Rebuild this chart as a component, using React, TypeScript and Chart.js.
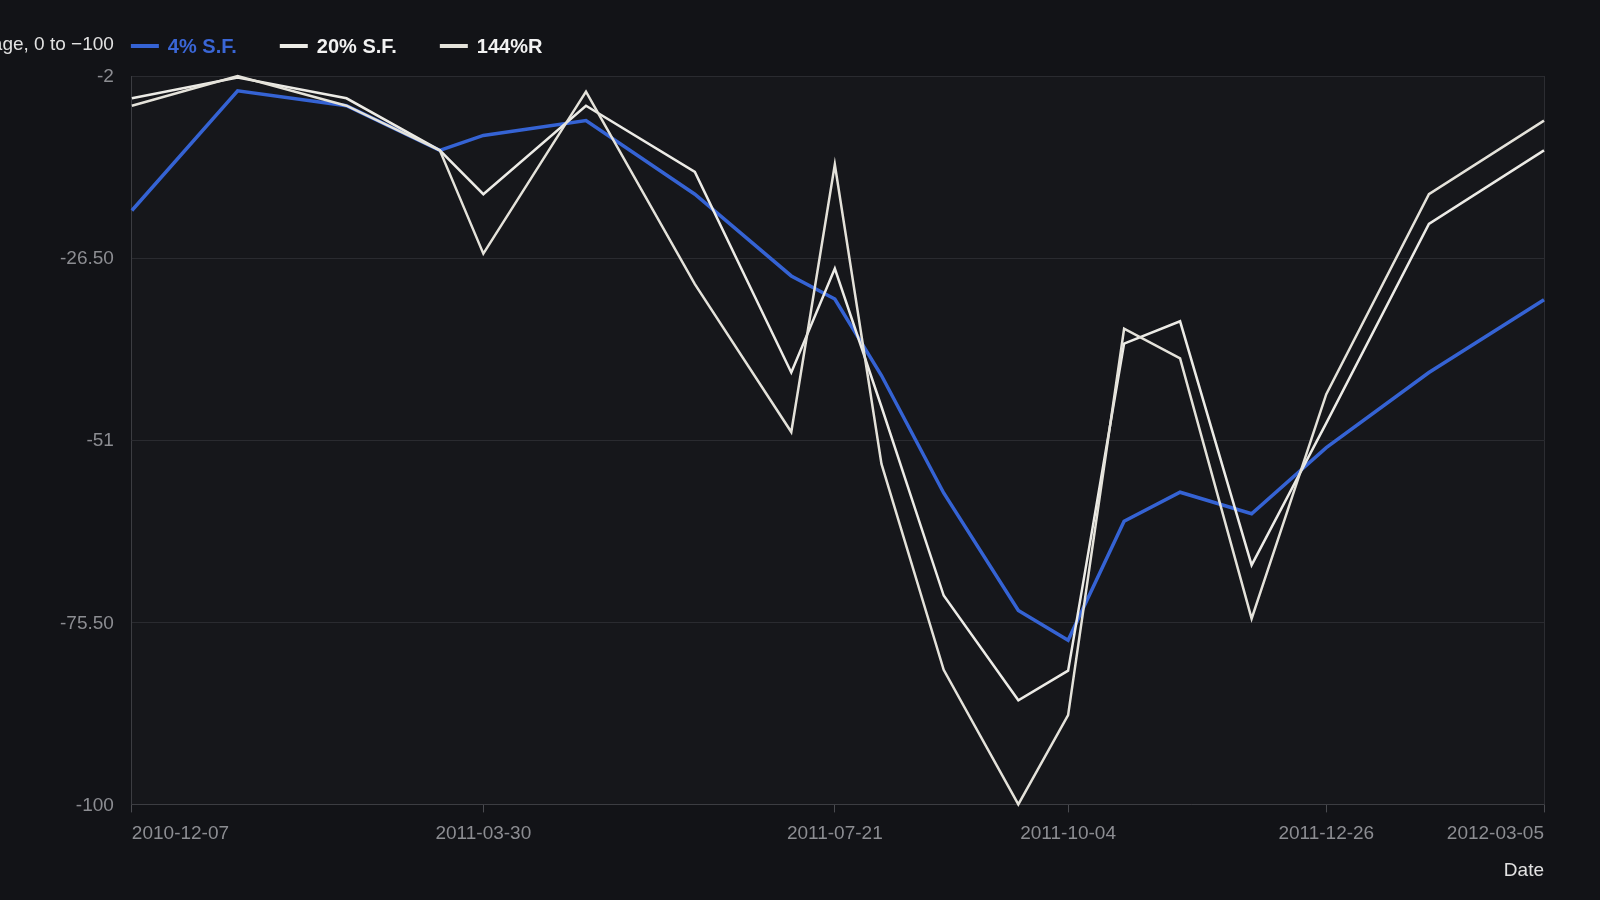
import { useEffect, useRef } from 'react';
import { Chart, registerables } from 'chart.js';

Chart.register(...registerables);

// Observation dates (x) and the three series (y, 0 to -100)
const dates = [
  '2010-12-07', '2011-01-10', '2011-02-14', '2011-03-16', '2011-03-30',
  '2011-05-02', '2011-06-06', '2011-07-07', '2011-07-21', '2011-08-05',
  '2011-08-25', '2011-09-18', '2011-10-04', '2011-10-22', '2011-11-09',
  '2011-12-02', '2011-12-26', '2012-01-28', '2012-03-05',
];
const sf4 = [
  -20.1, -4.0, -6.0, -12.0, -10.0, -8.0, -17.9, -28.9, -32.0, -42.3,
  -58.1, -73.9, -77.9, -61.9, -58.0, -60.9, -52.0, -41.9, -32.1,
];
const sf20 = [
  -5.0, -2.2, -5.0, -12.0, -17.9, -6.0, -14.9, -41.9, -27.9, -46.5,
  -71.9, -86.0, -82.0, -38.0, -35.0, -67.8, -48.7, -21.9, -12.0,
];
const r144 = [
  -6.0, -2.0, -6.0, -12.0, -25.9, -4.1, -30.0, -49.9, -13.9, -54.2,
  -81.9, -100.0, -88.0, -36.0, -40.0, -75.0, -44.8, -17.9, -8.0,
];

const xTickDates = ['2010-12-07', '2011-03-30', '2011-07-21', '2011-10-04', '2011-12-26', '2012-03-05'];
const yTickValues = [-2, -26.5, -51, -75.5, -100];
const yAxisTitle = 'Percentage, 0 to \u2212100';

const BG = '#121317';
const PLOT_BG = '#16171b';
const FONT = '"Liberation Sans", Arial, Helvetica, sans-serif';

const DAY = 86400000;
const startMs = Date.parse(dates[0]);
const toDay = (d: string) => Math.round((Date.parse(d) - startMs) / DAY);
const dayToLabel = (day: number) => new Date(startMs + day * DAY).toISOString().slice(0, 10);

const toPoints = (values: number[]) => dates.map((d, i) => ({ x: toDay(d), y: values[i] }));

// plot-area fill + right frame line
const plotFrame = {
  id: 'plotFrame',
  beforeDatasetsDraw(chart: any) {
    const { ctx, chartArea } = chart;
    ctx.save();
    ctx.strokeStyle = '#2c2d32';
    ctx.lineWidth = 1;
    ctx.beginPath();
    ctx.moveTo(Math.round(chartArea.right) + 0.5, chartArea.top);
    ctx.lineTo(Math.round(chartArea.right) + 0.5, chartArea.bottom);
    ctx.stroke();
    ctx.restore();
  },
  beforeDraw(chart: any) {
    const { ctx, chartArea, width, height } = chart;
    ctx.save();
    ctx.fillStyle = BG;
    ctx.fillRect(0, 0, width, height);
    ctx.fillStyle = PLOT_BG;
    ctx.fillRect(chartArea.left, chartArea.top, chartArea.right - chartArea.left, chartArea.bottom - chartArea.top);
    ctx.restore();
  },
};

// legend row with the y title placed to its left
const topLegend = {
  id: 'topLegend',
  afterDraw(chart: any) {
    const { ctx, chartArea } = chart;
    const y = 46;
    ctx.save();
    ctx.textBaseline = 'middle';
    ctx.font = `19px ${FONT}`;
    ctx.fillStyle = '#e2e2e2';
    ctx.textAlign = 'right';
    ctx.fillText(yAxisTitle, chartArea.left - 18, y - 1);

    ctx.textAlign = 'left';
    ctx.font = `bold 20px ${FONT}`;
    let x = chartArea.left - 1;
    chart.data.datasets.forEach((ds: any) => {
      ctx.strokeStyle = ds.borderColor;
      ctx.lineWidth = 4;
      ctx.beginPath();
      ctx.moveTo(x, y);
      ctx.lineTo(x + 28, y);
      ctx.stroke();
      ctx.fillStyle = ds.legendText;
      ctx.fillText(ds.label, x + 37, y + 1);
      x += 37 + ctx.measureText(ds.label).width + 43;
    });
    ctx.restore();
  },
};

export default function App() {
  const canvasRef = useRef<HTMLCanvasElement>(null);
  const chartRef = useRef<Chart | null>(null);

  useEffect(() => {
    document.body.style.margin = '0';
    document.body.style.background = BG;
    if (!canvasRef.current) return;
    if (chartRef.current) {
      chartRef.current.destroy();
      chartRef.current = null;
    }
    const ctx = canvasRef.current.getContext('2d');
    if (!ctx) return;

    chartRef.current = new Chart(ctx, {
      type: 'line',
      data: {
        datasets: [
          {
            label: '4% S.F.',
            data: toPoints(sf4),
            borderColor: '#3563d4',
            legendText: '#3a66d6',
            borderWidth: 3.5,
            order: 3,
          },
          {
            label: '20% S.F.',
            data: toPoints(sf20),
            borderColor: '#ecebe6',
            legendText: '#f2f2f2',
            borderWidth: 2.5,
            order: 2,
          },
          {
            label: '144%R',
            data: toPoints(r144),
            borderColor: '#e4e2da',
            legendText: '#f2f2f2',
            borderWidth: 2.5,
            order: 1,
          },
        ] as any,
      },
      options: {
        animation: false,
        responsive: true,
        maintainAspectRatio: false,
        layout: { padding: { left: 42, right: 56, top: 76, bottom: 14 } },
        elements: {
          point: { radius: 0, hoverRadius: 0 },
          line: { tension: 0, fill: false, borderJoinStyle: 'miter' },
        },
        datasets: { line: { clip: 4 } as any },
        plugins: {
          legend: { display: false },
          tooltip: { enabled: false },
        },
        scales: {
          x: {
            type: 'linear',
            min: 0,
            max: toDay(dates[dates.length - 1]),
            afterBuildTicks: (axis: any) => {
              axis.ticks = xTickDates.map((d) => ({ value: toDay(d) }));
            },
            ticks: {
              callback: (v: any) => dayToLabel(Number(v)),
              align: 'inner',
              autoSkip: false,
              maxRotation: 0,
              color: '#8c8d92',
              font: { family: FONT, size: 19 },
              padding: 10,
            },
            grid: { drawOnChartArea: false, drawTicks: true, tickLength: 8, color: '#4a4b50' },
            border: { color: '#3c3d42' },
            title: {
              display: true,
              text: 'Date',
              align: 'end',
              color: '#e2e2e2',
              font: { family: FONT, size: 19 },
              padding: { top: 4, bottom: 4 },
            },
          },
          y: {
            min: -100,
            max: -2,
            afterBuildTicks: (axis: any) => {
              axis.ticks = yTickValues.map((v) => ({ value: v }));
            },
            ticks: {
              callback: (v: any) => (Number.isInteger(v) ? String(v) : Number(v).toFixed(2)),
              color: '#8c8d92',
              font: { family: FONT, size: 19 },
              padding: 18,
              labelOffset: 1,
            },
            grid: { color: '#2a2b30', drawTicks: false },
            border: { color: '#3c3d42' },
          },
        },
      } as any,
      plugins: [plotFrame, topLegend],
    });

    return () => {
      if (chartRef.current) {
        chartRef.current.destroy();
        chartRef.current = null;
      }
    };
  }, []);

  return (
    <div style={{ width: '1600px', height: '900px', position: 'relative', background: BG }}>
      <canvas ref={canvasRef} />
    </div>
  );
}
